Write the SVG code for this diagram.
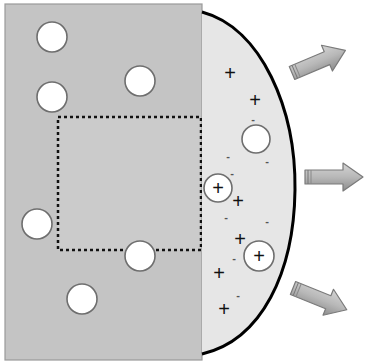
<svg xmlns="http://www.w3.org/2000/svg" width="365" height="364" viewBox="0 0 365 364">
<style>
.ball{fill:#fff;stroke:#6e6e6e;stroke-width:1.6}
.plus{font-family:"Liberation Sans",Arial,sans-serif;font-size:20px;fill:#111;text-anchor:middle;dominant-baseline:central}
.minus{font-family:"Liberation Sans",Arial,sans-serif;font-size:11px;font-weight:bold;fill:#555;text-anchor:middle;dominant-baseline:central}
</style>
<defs>
<linearGradient id="ag" x1="0" y1="0" x2="0" y2="1">
<stop offset="0" stop-color="#d4d4d4"/>
<stop offset="0.5" stop-color="#b8b8b8"/>
<stop offset="1" stop-color="#8c8c8c"/>
</linearGradient>
<g id="arrow">
<polygon points="0,-7 38,-7 38,-14 58,0 38,14 38,7 0,7" fill="url(#ag)" stroke="#7a7a7a" stroke-width="1.2" stroke-linejoin="round"/>
<line x1="3" y1="-7" x2="3" y2="7" stroke="#777" stroke-width="1"/>
<line x1="6" y1="-7" x2="6" y2="7" stroke="#888" stroke-width="1"/>
</g>
</defs>
<g id="plate">
<rect x="5" y="4" width="197" height="356" fill="#c4c4c4" stroke="#9a9a9a" stroke-width="1.2"/>
</g>
<g id="region">
<rect x="58" y="117" width="143" height="133" fill="#cbcbcb" stroke="#111" stroke-width="2.5" stroke-dasharray="3,3"/>
</g>
<g id="bulge">
<path d="M202,12 C262,28 296,110 295,190 C294,272 262,340 202,354 Z" fill="#e6e6e6" stroke="none"/>
<path d="M202,12 C262,28 296,110 295,190 C294,272 262,340 202,354" fill="none" stroke="#000" stroke-width="3"/>
</g>
<g id="particles">
<circle class="ball" cx="52" cy="37" r="15"/>
<circle class="ball" cx="140" cy="81" r="15"/>
<circle class="ball" cx="52" cy="97" r="15"/>
<circle class="ball" cx="37" cy="224" r="15"/>
<circle class="ball" cx="140" cy="256" r="15"/>
<circle class="ball" cx="82" cy="299" r="15"/>
<circle class="ball" cx="256" cy="139" r="14"/>
</g>
<g id="ion1">
<circle class="ball" cx="218" cy="188" r="14"/>
<text class="plus" x="218" y="188">+</text>
</g>
<g id="ion2">
<circle class="ball" cx="259" cy="256" r="15"/>
<text class="plus" x="259" y="256">+</text>
</g>
<g id="charges">
<text class="plus" x="230" y="73">+</text>
<text class="plus" x="255" y="100">+</text>
<text class="plus" x="238" y="201">+</text>
<text class="plus" x="240" y="239">+</text>
<text class="plus" x="219" y="273">+</text>
<text class="plus" x="224" y="309">+</text>
<text class="minus" x="253" y="119">-</text>
<text class="minus" x="228" y="156">-</text>
<text class="minus" x="267" y="161">-</text>
<text class="minus" x="232" y="173">-</text>
<text class="minus" x="226" y="217">-</text>
<text class="minus" x="267" y="221">-</text>
<text class="minus" x="234" y="258">-</text>
<text class="minus" x="238" y="295">-</text>
</g>
<g id="connectors">
<use href="#arrow" transform="translate(292,73) rotate(-23)"/>
<use href="#arrow" transform="translate(305,177)"/>
<use href="#arrow" transform="translate(293,288) rotate(22)"/>
</g>
</svg>
